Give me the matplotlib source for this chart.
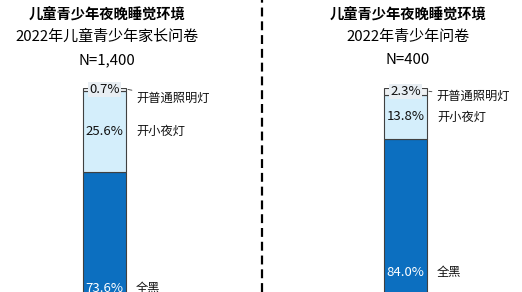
import matplotlib.pyplot as plt
from matplotlib.transforms import blended_transform_factory
from matplotlib.lines import Line2D

plt.rcParams['font.family'] = ['Noto Sans CJK SC', 'DejaVu Sans']

# data
titles = ['儿童青少年夜晚睡觉环境', '儿童青少年夜晚睡觉环境']
subtitles = ['2022年儿童青少年家长问卷', '2022年青少年问卷']
sample_n = ['N=1,400', 'N=400']
categories = ['全黑', '开小夜灯', '开普通照明灯']
dark = [73.6, 84.0]
night_light = [25.6, 13.8]
normal_light = [0.7, 2.3]

colors = ['#0c6fc0', '#d4eefb', '#eef1f3']
text_colors = ['white', '#111111', '#111111']
# offset (px) of the top label from the top segment, per panel
top_offsets = [(10, 9), (9, 5)]

fig = plt.figure(figsize=(5.22, 2.92), dpi=100)
top = 1 - 88 / 292
height = 318 / 292
ax = fig.add_axes([0, top - height, 1, height])
ax.set_xlim(-104.5 / 301, (522 - 104.5) / 301)
ax.set_ylim(0, 100)
ax.axis('off')

width = 43 / 301
px = 1 / 301  # one pixel in x data units
py = 100 / 318  # one pixel in y data units
xs = [0, 1]
trans = blended_transform_factory(ax.transData, fig.transFigure)

for i, x in enumerate(xs):
    vals = [dark[i], night_light[i], normal_light[i]]
    bottom = 0
    for j, v in enumerate(vals):
        ax.bar(x, v, width=width, bottom=bottom, color=colors[j],
               edgecolor='#404040', linewidth=0.8)
        mid = bottom + v / 2
        if j < 2:
            ax.text(x, mid, f'{v:.1f}%', ha='center', va='center',
                    fontsize=9.5, color=text_colors[j])
            ax.text(x + width / 2 + 10 * px, mid, categories[j],
                    ha='left', va='center', fontsize=8.8, color='#111111')
        else:
            ax.text(x, mid, f'{v:.1f}%', ha='center', va='center',
                    fontsize=9.5, color='#111111',
                    bbox=dict(boxstyle='square,pad=0.08', fc='#e8eef3', ec='none'))
            dx, dy = top_offsets[i]
            ax.annotate(categories[j], xy=(x + width / 2 + 2 * px, mid),
                        xytext=(x + width / 2 + dx * px, mid - dy * py),
                        ha='left', va='center', fontsize=8.8, color='#111111',
                        arrowprops=dict(arrowstyle='-', color='#555555', lw=0.7,
                                        shrinkA=1, shrinkB=0))
        bottom += v

    tx = x + 2.5 * px
    ax.text(tx, 1 - 14.5 / 292, titles[i], transform=trans, ha='center',
            va='center', fontsize=10.3, fontweight='bold', color='black')
    ax.text(tx, 1 - 37 / 292, subtitles[i], transform=trans, ha='center',
            va='center', fontsize=10.8, color='black')
    ax.text(tx, 1 - 60 / 292, sample_n[i], transform=trans, ha='center',
            va='center', fontsize=10.8, color='black')

fig.add_artist(Line2D([262 / 522, 262 / 522], [0, 1], color='black',
                      lw=1.6, linestyle=(0, (4, 2.2))))

fig.savefig('out.png', dpi=100)
